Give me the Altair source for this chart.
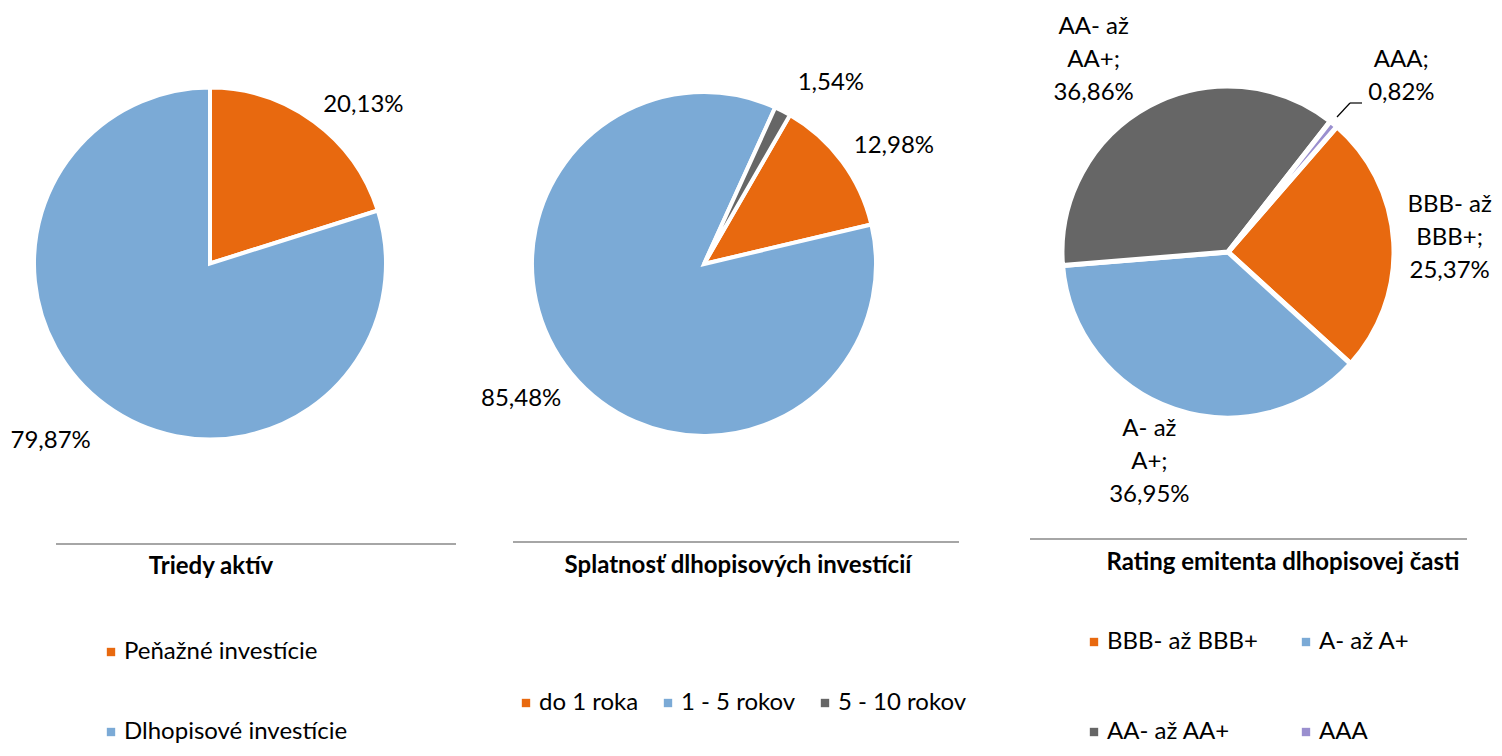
import math
import altair as alt
import pandas as pd

FONT = "Lato"
FS = 24

# ---- data ----
cat1 = ["Peňažné investície", "Dlhopisové investície"]
val1 = [20.13, 79.87]
cat2 = ["do 1 roka", "1 - 5 rokov", "5 - 10 rokov"]
val2 = [12.98, 85.48, 1.54]
cat3 = ["BBB- až BBB+", "A-  až A+", "AA- až AA+", "AAA"]
val3 = [25.37, 36.95, 36.86, 0.82]
titles = ["Triedy aktív", "Splatnosť dlhopisových investícií", "Rating emitenta dlhopisovej časti"]

ORANGE, BLUE, GREY, PURPLE = "#E8690F", "#7BAAD6", "#666666", "#9A8FCF"
col1 = [ORANGE, BLUE]
col2 = [ORANGE, BLUE, GREY]
col3 = [ORANGE, BLUE, GREY, PURPLE]


def fmt(v):
    return f"{v:.2f}".replace(".", ",") + "%"


lab1 = [fmt(v) for v in val1]
lab2 = [fmt(v) for v in val2]
lab3 = []
for c, v in zip(cat3, val3):
    if " až " in c:
        a, b = c.split(" až ")
        lab3.append(f"{a} až\n{b};\n{fmt(v)}")
    else:
        lab3.append(f"{c};\n{fmt(v)}")


def pie(cats, vals, cols, labels, start_deg, cx, cy, r, sw, label_pos, W, H,
        title, title_xy, rule, legend, extra=None):
    df = pd.DataFrame({"cat": cats, "val": vals, "idx": list(range(len(cats))), "label": labels})
    s = math.radians(start_deg)
    theta = alt.Theta("val:Q", stack=True,
                      scale=alt.Scale(range=[s, s + 2 * math.pi], nice=False, zero=True))
    base = alt.Chart(df)
    arcs = base.mark_arc(outerRadius=r, stroke="white", strokeWidth=sw).encode(
        theta=theta,
        color=alt.Color("cat:N", sort=cats, scale=alt.Scale(domain=cats, range=cols), legend=legend),
        order=alt.Order("idx:Q"),
        x=alt.value(cx), y=alt.value(cy),
    )
    layers = [arcs]
    for c, (R, dx, dy) in zip(cats, label_pos):
        layers.append(
            base.mark_text(radius=R, dx=dx, dy=dy, font=FONT, fontSize=FS, lineBreak="\n",
                           lineHeight=33, color="#000000").encode(
                theta=theta,
                detail="cat:N",
                order=alt.Order("idx:Q"),
                x=alt.value(cx), y=alt.value(cy),
                text=alt.condition(alt.datum.cat == c, alt.Text("label:N"), alt.value("")),
            )
        )
    tdf = pd.DataFrame({"t": [title]})
    layers.append(
        alt.Chart(tdf).mark_rule(color="#A6A6A6", strokeWidth=2).encode(
            x=alt.value(rule[0]), x2=alt.value(rule[1]), y=alt.value(rule[2]))
    )
    layers.append(
        alt.Chart(tdf).mark_text(font=FONT, fontSize=FS, fontWeight="bold", color="#000000").encode(
            text="t:N", x=alt.value(title_xy[0]), y=alt.value(title_xy[1]))
    )
    if extra:
        layers.extend(extra)
    return alt.layer(*layers).properties(width=W, height=H)


H = 734

leg_common = dict(orient="none", title=None, symbolType="square", symbolSize=70,
                  symbolStrokeWidth=0, labelFont=FONT, labelFontSize=FS, labelColor="#000000",
                  labelOffset=1, padding=0, labelLimit=400)

p1 = pie(cat1, val1, col1, lab1, 0, 202, 255.5, 176, 4,
         [(207, 31, 8), (207, -37, 11)], 500, H, titles[0], (203, 559), (48, 448, 536),
         alt.Legend(legendX=91, legendY=632, direction="vertical", rowPadding=56, **leg_common))

p2 = pie(cat2, val2, col2, lab2, 30, 196, 256, 172, 4,
         [(203, 27, 3), (203, -26, 6), (203, 34, 0)], 500, H, titles[1], (230, 558), (5, 451, 534),
         alt.Legend(legendX=6, legendY=683, direction="horizontal", columnPadding=17, **leg_common))

tdf3 = pd.DataFrame({"t": ["leader"]})
leader = [
    alt.Chart(tdf3).mark_rule(color="#000000", strokeWidth=1.2).encode(
        x=alt.value(329), x2=alt.value(342), y=alt.value(109), y2=alt.value(95)),
    alt.Chart(tdf3).mark_rule(color="#000000", strokeWidth=1.2).encode(
        x=alt.value(342), x2=alt.value(354), y=alt.value(95), y2=alt.value(95)),
]

p3 = pie(cat3, val3, col3, lab3, 41, 220, 244, 166, 5,
         [(197, 25, -36), (197, -15, -9), (197, -41, -52), (197, 48, -40)], 486, H, titles[2],
         (275, 555), (22, 459, 531),
         alt.Legend(legendX=74, legendY=622, direction="horizontal", columns=2, rowPadding=66,
                    columnPadding=36, **leg_common),
         extra=leader)

chart = (
    alt.hconcat(p1, p2, p3, spacing=0, padding=0, bounds="flush")
    .resolve_scale(color="independent", theta="independent")
    .configure_view(stroke=None)
)

chart.save("out.html", embed_options={"renderer": "svg", "actions": False})
